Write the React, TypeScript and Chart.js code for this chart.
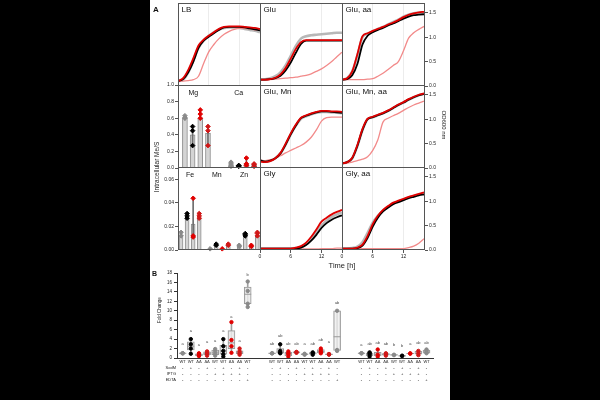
import React, { useEffect, useRef } from "react";
import { Chart, registerables } from "chart.js";

Chart.register(...registerables);
const FONT = "'Liberation Sans', Arial, Helvetica, sans-serif";
Chart.defaults.font.family = FONT;
Chart.defaults.color = "#222";

// ---------- Panel A: growth curves ----------
const TIME_H = [0, 1, 2, 3, 4, 5, 6, 7, 8, 9, 10, 11, 12, 13, 14, 15, 16];
const TIME_TICKS = [0, 6, 12];
const OD_TICKS = [0, 0.5, 1.0, 1.5];

const LB_RED = [0.1, 0.16, 0.33, 0.57, 0.83, 0.95, 1.03, 1.1, 1.17, 1.21, 1.22, 1.22, 1.22, 1.21, 1.2, 1.19, 1.17];
const LB_BLACK = [0.1, 0.14, 0.28, 0.5, 0.78, 0.93, 1.01, 1.08, 1.15, 1.2, 1.21, 1.21, 1.21, 1.2, 1.18, 1.16, 1.14];
const LB_PINK = [0.1, 0.1, 0.11, 0.13, 0.2, 0.46, 0.7, 0.85, 0.97, 1.06, 1.12, 1.16, 1.18, 1.18, 1.17, 1.15, 1.14];
const LB_GREY = [0.1, 0.13, 0.28, 0.52, 0.78, 0.93, 1.03, 1.1, 1.16, 1.19, 1.2, 1.2, 1.19, 1.17, 1.15, 1.13, 1.1];

const GLU_RED = [0.13, 0.13, 0.14, 0.17, 0.24, 0.37, 0.56, 0.76, 0.9, 0.94, 0.94, 0.94, 0.94, 0.94, 0.94, 0.94, 0.94];
const GLU_BLACK = [0.13, 0.13, 0.14, 0.16, 0.21, 0.32, 0.48, 0.68, 0.86, 0.93, 0.93, 0.93, 0.93, 0.93, 0.93, 0.93, 0.93];
const GLU_PINK = [0.12, 0.12, 0.13, 0.14, 0.15, 0.16, 0.17, 0.18, 0.2, 0.22, 0.25, 0.3, 0.35, 0.42, 0.5, 0.6, 0.69];
const GLU_GREY = [0.13, 0.14, 0.16, 0.2, 0.28, 0.42, 0.62, 0.82, 0.97, 1.02, 1.04, 1.05, 1.06, 1.07, 1.08, 1.09, 1.09];

const GLUAA_RED = [0.13, 0.16, 0.3, 0.65, 1.02, 1.08, 1.13, 1.17, 1.21, 1.26, 1.3, 1.35, 1.41, 1.46, 1.49, 1.51, 1.52];
const GLUAA_BLACK = [0.13, 0.14, 0.22, 0.45, 0.85, 1.03, 1.1, 1.15, 1.19, 1.24, 1.28, 1.33, 1.38, 1.42, 1.45, 1.46, 1.47];
const GLUAA_PINK = [0.13, 0.13, 0.13, 0.13, 0.13, 0.14, 0.15, 0.2, 0.26, 0.34, 0.42, 0.5, 0.72, 0.98, 1.09, 1.16, 1.22];
const GLUAA_GREY = [0.13, 0.16, 0.3, 0.62, 1.0, 1.07, 1.12, 1.17, 1.21, 1.26, 1.31, 1.36, 1.42, 1.46, 1.49, 1.5, 1.51];

const GLUMN_RED = [0.13, 0.12, 0.14, 0.2, 0.31, 0.5, 0.71, 0.89, 1.03, 1.08, 1.12, 1.15, 1.17, 1.17, 1.16, 1.16, 1.15];
const GLUMN_BLACK = [0.16, 0.13, 0.15, 0.2, 0.3, 0.48, 0.69, 0.87, 1.02, 1.07, 1.11, 1.14, 1.16, 1.16, 1.15, 1.14, 1.13];
const GLUMN_PINK = [0.16, 0.15, 0.17, 0.2, 0.25, 0.31, 0.36, 0.41, 0.46, 0.53, 0.63, 0.78, 0.96, 1.03, 1.04, 1.04, 1.04];
const GLUMN_GREY = [0.15, 0.13, 0.15, 0.2, 0.3, 0.48, 0.69, 0.87, 1.01, 1.06, 1.1, 1.13, 1.15, 1.15, 1.14, 1.13, 1.12];

const GLUMNAA_RED = [0.09, 0.12, 0.21, 0.47, 0.8, 1.01, 1.05, 1.09, 1.13, 1.18, 1.24, 1.3, 1.35, 1.41, 1.46, 1.5, 1.53];
const GLUMNAA_BLACK = [0.09, 0.12, 0.2, 0.45, 0.78, 1.0, 1.04, 1.08, 1.12, 1.17, 1.23, 1.29, 1.34, 1.4, 1.45, 1.49, 1.52];
const GLUMNAA_PINK = [0.09, 0.1, 0.12, 0.15, 0.18, 0.23, 0.36, 0.58, 0.94, 1.02, 1.07, 1.12, 1.18, 1.24, 1.29, 1.33, 1.37];
const GLUMNAA_GREY = [0.09, 0.12, 0.2, 0.45, 0.78, 1.0, 1.04, 1.08, 1.12, 1.17, 1.23, 1.29, 1.34, 1.4, 1.45, 1.49, 1.52];

const GLY_RED = [0.03, 0.03, 0.03, 0.03, 0.03, 0.03, 0.03, 0.05, 0.08, 0.15, 0.27, 0.42, 0.58, 0.66, 0.73, 0.78, 0.82];
const GLY_BLACK = [0.03, 0.03, 0.03, 0.03, 0.03, 0.03, 0.03, 0.03, 0.05, 0.1, 0.19, 0.31, 0.45, 0.55, 0.62, 0.67, 0.71];
const GLY_PINK = [0.02, 0.02, 0.02, 0.02, 0.02, 0.02, 0.02, 0.02, 0.02, 0.02, 0.02, 0.02, 0.03, 0.03, 0.03, 0.04, 0.04];
const GLY_GREY = [0.03, 0.03, 0.03, 0.03, 0.03, 0.03, 0.03, 0.04, 0.06, 0.12, 0.22, 0.36, 0.5, 0.6, 0.68, 0.73, 0.77];

const GLYAA_RED = [0.03, 0.03, 0.03, 0.05, 0.11, 0.29, 0.53, 0.7, 0.82, 0.9, 0.97, 1.01, 1.05, 1.09, 1.12, 1.15, 1.18];
const GLYAA_BLACK = [0.03, 0.03, 0.03, 0.04, 0.09, 0.25, 0.48, 0.66, 0.79, 0.87, 0.94, 0.98, 1.02, 1.06, 1.09, 1.12, 1.14];
const GLYAA_PINK = [0.03, 0.03, 0.03, 0.03, 0.03, 0.03, 0.03, 0.03, 0.03, 0.03, 0.03, 0.03, 0.03, 0.05, 0.08, 0.14, 0.23];
const GLYAA_GREY = [0.03, 0.03, 0.04, 0.07, 0.16, 0.35, 0.56, 0.7, 0.8, 0.88, 0.95, 0.99, 1.03, 1.07, 1.1, 1.13, 1.16];

// ---------- Panel A: intracellular metals ----------
const MG_LABELS = ["Mg", "Ca"];
const MG_LABEL_X = [1.1, 7.0];
const MG_X = [0, 1, 2, 3, 6, 7, 8, 9];
const MG_BAR = [0.6, 0.4, 0.6, 0.42, 0.04, 0.02, 0.05, 0.04];
const MG_LO = [0.58, 0.27, 0.58, 0.27, 0.02, 0.02, 0.02, 0.02];
const MG_HI = [0.63, 0.5, 0.7, 0.52, 0.07, 0.03, 0.12, 0.06];
const MG_PTS = [[0.6, 0.61, 0.63], [0.27, 0.45, 0.5], [0.6, 0.65, 0.7], [0.27, 0.45, 0.5], [0.02, 0.05, 0.07], [0.02, 0.03, 0.03], [0.03, 0.05, 0.12], [0.02, 0.04, 0.05]];
const MG_TICKS = [0, 0.2, 0.4, 0.6, 0.8, 1.0];

const FE_LABELS = ["Fe", "Mn", "Zn"];
const FE_LABEL_X = [1.5, 5.9, 10.4];
const FE_X = [0, 1, 2, 3, 4.8, 5.8, 6.8, 7.8, 9.6, 10.6, 11.6, 12.6];
const FE_BAR = [0.013, 0.027, 0.022, 0.027, 0.0005, 0.004, 0.0005, 0.004, 0.004, 0.012, 0.004, 0.012];
const FE_LO = [0.011, 0.026, 0.011, 0.026, 0, 0.003, 0, 0.003, 0.003, 0.011, 0.003, 0.011];
const FE_HI = [0.016, 0.031, 0.044, 0.031, 0.001, 0.005, 0.001, 0.005, 0.005, 0.014, 0.005, 0.015];
const FE_PTS = [[0.012, 0.015], [0.027, 0.029, 0.031], [0.011, 0.012, 0.044], [0.027, 0.029, 0.031], [0.001], [0.004, 0.005], [0.001], [0.004, 0.005], [0.003, 0.004], [0.012, 0.013, 0.014], [0.003, 0.004], [0.012, 0.014, 0.015]];
const FE_TICKS = [0, 0.02, 0.04, 0.06];

const STRAIN_COLORS = ["#8a8a8a", "#000000", "#e00000", "#d01818"];

// ---------- Panel B: fold change ----------
const B_POS = [0, 1, 2, 3, 4, 5, 6, 7, 8, 11, 12, 13, 14, 15, 16, 17, 18, 19, 22, 23, 24, 25, 26, 27, 28, 29, 30];
const B_CATS = ["WT", "WT", "ΔΔ", "ΔΔ", "WT", "WT", "ΔΔ", "ΔΔ", "WT", "WT", "WT", "ΔΔ", "ΔΔ", "WT", "WT", "ΔΔ", "ΔΔ", "WT", "WT", "WT", "ΔΔ", "ΔΔ", "WT", "WT", "ΔΔ", "ΔΔ", "WT"];
const B_SODM = ["-", "+", "-", "+", "-", "+", "-", "+", "-", "-", "+", "-", "+", "-", "+", "-", "+", "-", "-", "+", "-", "+", "-", "+", "-", "+", "-"];
const B_IPTG = ["-", "-", "-", "-", "+", "+", "+", "+", "-", "-", "-", "-", "-", "+", "+", "+", "+", "-", "-", "-", "-", "-", "+", "+", "+", "+", "-"];
const B_EDTA = ["-", "-", "-", "-", "-", "-", "-", "-", "+", "-", "-", "-", "-", "-", "-", "-", "-", "+", "-", "-", "-", "-", "-", "-", "-", "-", "+"];
const B_ROW_LABELS = ["SodM", "IPTG", "EDTA"];
const B_MIN = [1, 0.9, 0.4, 0.5, 0.5, 0.3, 1.1, 0.7, 10.8, 1, 1.0, 0.3, 1.1, 0.7, 0.7, 1.0, 0.7, 1.5, 1, 0.3, 0.3, 0.5, 0.6, 0.4, 0.9, 0.6, 1.0];
const B_Q1 = [0.95, 1.7, 0.5, 0.7, 0.7, 0.8, 2.0, 0.9, 11.5, 0.95, 1.0, 0.5, 1.1, 0.7, 0.8, 1.1, 0.7, 1.6, 0.95, 0.5, 0.5, 0.6, 0.6, 0.4, 0.9, 0.8, 1.0];
const B_MED = [1, 2.5, 0.7, 1.0, 1.1, 1.5, 3.2, 1.2, 13.5, 1, 1.3, 0.9, 1.2, 0.8, 1.0, 1.4, 0.8, 4.5, 1, 0.8, 0.8, 0.8, 0.65, 0.45, 0.95, 1.0, 1.3];
const B_Q3 = [1.05, 3.4, 0.9, 1.3, 1.7, 2.7, 5.8, 1.5, 15.0, 1.05, 2.0, 1.2, 1.3, 0.9, 1.15, 1.8, 0.85, 10.0, 1.05, 1.05, 1.2, 0.95, 0.7, 0.5, 1.0, 1.4, 1.7];
const B_MAX = [1, 4.0, 1.0, 1.4, 1.9, 4.0, 7.6, 2.0, 16.2, 1, 2.9, 1.4, 1.3, 0.9, 1.2, 2.0, 0.85, 10.0, 1, 1.2, 1.8, 1.0, 0.7, 0.5, 1.0, 1.5, 1.8];
const B_PTS = [
  [1, 1, 1], [0.9, 2.0, 2.9, 4.0], [0.4, 0.6, 0.8, 1.0], [0.5, 0.9, 1.1, 1.4], [0.5, 0.9, 1.4, 1.9], [0.3, 0.8, 1.5, 2.5, 4.0], [1.1, 2.5, 3.8, 7.6], [0.7, 1.0, 1.4, 2.0], [10.8, 11.5, 14.2, 16.2],
  [1, 1, 1], [1.0, 1.1, 1.5, 2.9], [0.3, 0.8, 1.0, 1.4], [1.1, 1.2, 1.3], [0.7, 0.8, 0.9], [0.7, 1.0, 1.2], [1.0, 1.3, 1.6, 2.0], [0.7, 0.8, 0.85], [1.5, 1.7, 10.0],
  [1, 1, 1], [0.3, 0.7, 1.0, 1.2], [0.3, 0.7, 1.8], [0.5, 0.8, 1.0], [0.6, 0.7], [0.4, 0.5], [0.9, 1.0], [0.6, 1.0, 1.5], [1.0, 1.2, 1.6, 1.8],
];
const B_LETTERS = ["a", "a", "a", "a", "a", "a", "a", "a", "b", "ab", "ab", "ab", "ab", "a", "ab", "ab", "a", "ab", "a", "ab", "ab", "ab", "b", "b", "a", "ab", "ab"];
const B_LETTER_Y = [2.9, 5.7, 2.8, 3.4, 3.6, 5.8, 8.8, 3.6, 17.6, 2.9, 4.6, 2.9, 2.9, 2.9, 2.9, 3.8, 3.4, 11.7, 2.7, 2.9, 3.3, 2.9, 2.7, 2.6, 2.9, 3.3, 3.3];
const B_COLOR_IDX = [0, 1, 2, 3, 0, 1, 2, 3, 0, 0, 1, 2, 3, 0, 1, 2, 3, 0, 0, 1, 2, 3, 0, 1, 2, 3, 0];
const B_Y_TICKS = [0, 2, 4, 6, 8, 10, 12, 14, 16, 18];

// ---------- plugins ----------
const framePlugin = (color: string) => ({
  id: "frame",
  afterDraw(chart: any) {
    const { ctx, chartArea: a } = chart;
    ctx.save();
    ctx.strokeStyle = color;
    ctx.lineWidth = 1;
    ctx.strokeRect(a.left + 0.5, a.top + 0.5, a.right - a.left - 1, a.bottom - a.top - 1);
    ctx.restore();
  },
});

const panelLabelPlugin = (text: string) => ({
  id: "panelLabel",
  afterDraw(chart: any) {
    const { ctx, chartArea: a } = chart;
    ctx.save();
    ctx.font = `8px ${FONT}`;
    ctx.fillStyle = "#111";
    ctx.textBaseline = "top";
    ctx.textAlign = "left";
    ctx.fillText(text, a.left + 3.5, a.top + 3);
    ctx.restore();
  },
});

const groupLabelPlugin = (labels: string[], xs: number[]) => ({
  id: "groupLabels",
  afterDraw(chart: any) {
    const { ctx, chartArea: a } = chart;
    const sx = chart.scales.x;
    ctx.save();
    ctx.font = `7px ${FONT}`;
    ctx.fillStyle = "#111";
    ctx.textBaseline = "middle";
    ctx.textAlign = "center";
    labels.forEach((t, i) => ctx.fillText(t, sx.getPixelForValue(xs[i]), a.top + 8.5));
    ctx.restore();
  },
});

const letterPlugin = {
  id: "letters",
  afterDatasetsDraw(chart: any) {
    const { ctx, chartArea: a } = chart;
    const sx = chart.scales.x;
    const sy = chart.scales.y;
    ctx.save();
    ctx.font = `4px ${FONT}`;
    ctx.fillStyle = "#444";
    ctx.textBaseline = "middle";
    ctx.textAlign = "center";
    B_LETTERS.forEach((t, i) => ctx.fillText(t, sx.getPixelForValue(B_POS[i]), sy.getPixelForValue(B_LETTER_Y[i])));
    ctx.textAlign = "right";
    ctx.fillStyle = "#222";
    B_ROW_LABELS.forEach((t, i) => ctx.fillText(t, a.left - 1, a.bottom + 10 + i * 6));
    ctx.restore();
  },
};

// ---------- config builders ----------
const RED = "#e00000";
const BLACK = "#000000";
const PINK = "#f28a8a";
const GREY = "rgba(175,175,175,0.9)";
const M = 5; // transparent margin around each panel canvas so edge labels are not clipped

const baseOptions = {
  animation: false,
  responsive: false,
  events: [],
  plugins: { legend: { display: false }, tooltip: { enabled: false } },
};

const noPad = (s: any) => {
  s.paddingTop = 0;
  s.paddingBottom = 0;
  s.paddingLeft = 0;
  s.paddingRight = 0;
};
const fixW = (w: number) => (s: any) => { noPad(s); s.width = w; };
const fixH = (h: number) => (s: any) => { noPad(s); s.height = h; };

function growthConfig(label: string, red: number[], black: number[], pink: number[], grey: number[], right: boolean, bottom: boolean) {
  const mk = (arr: number[]) => arr.map((y, i) => ({ x: TIME_H[i], y }));
  const ds = [
    { data: mk(red), borderColor: RED, borderWidth: 1.8 },
    { data: mk(black), borderColor: BLACK, borderWidth: 1.8 },
    { data: mk(pink), borderColor: PINK, borderWidth: 1.3 },
    { data: mk(grey), borderColor: GREY, borderWidth: 2.6 },
  ].map((d) => ({ ...d, pointRadius: 0, pointHoverRadius: 0, cubicInterpolationMode: "monotone", fill: false }));
  return {
    type: "line",
    data: { datasets: ds },
    options: {
      ...baseOptions,
      layout: { padding: M, autoPadding: false },
      scales: {
        x: {
          type: "linear",
          min: 0,
          max: 16.2,
          afterBuildTicks: (s: any) => {
            s.ticks = TIME_TICKS.map((v) => ({ value: v }));
          },
          ticks: { display: bottom, font: { size: 5 }, padding: 1, maxRotation: 0, color: "#222", callback: (v: any) => String(v) },
          grid: { color: "#ececec", drawTicks: bottom, tickLength: 3, tickColor: "#555" },
          border: { display: false },
          afterFit: bottom ? fixH(12) : fixH(0),
        },
        y: {
          type: "linear",
          position: "right",
          min: 0,
          max: 1.7,
          display: right,
          afterBuildTicks: (s: any) => {
            s.ticks = OD_TICKS.map((v) => ({ value: v }));
          },
          ticks: { font: { size: 5 }, padding: 1, color: "#222", callback: (v: any) => Number(v).toFixed(1) },
          grid: { drawOnChartArea: false, drawTicks: true, tickLength: 3, color: "#555" },
          border: { display: false },
          afterFit: right ? fixW(24) : fixW(0),
        },
      },
    },
    plugins: [framePlugin("#555"), panelLabelPlugin(label)],
  };
}

function metalConfig(xs: number[], bars: number[], lo: number[], hi: number[], pts: number[][], xmin: number, xmax: number, ymax: number, yTicks: number[], dec: number, labels: string[], labelX: number[], barW: number) {
  const px: any[] = [];
  const pc: string[] = [];
  pts.forEach((arr, i) => arr.forEach((v) => { px.push({ x: xs[i], y: v }); pc.push(STRAIN_COLORS[i % 4]); }));
  return {
    type: "bar",
    data: {
      datasets: [
        { type: "scatter", data: px, pointBackgroundColor: pc, pointBorderColor: pc, pointRadius: 2.3, pointHoverRadius: 0, pointStyle: "rectRot", order: 0, clip: false },
        { type: "bar", data: xs.map((x, i) => ({ x, y: [lo[i], hi[i]] })), backgroundColor: "#6e6e6e", barThickness: 1, grouped: false, order: 1 },
        { type: "bar", data: xs.map((x, i) => ({ x, y: bars[i] })), backgroundColor: "#d4d4d4", borderColor: "#8c8c8c", borderWidth: 1, barThickness: barW, grouped: false, order: 2 },
      ],
    },
    options: {
      ...baseOptions,
      layout: { padding: M, autoPadding: false },
      scales: {
        x: { type: "linear", min: xmin, max: xmax, offset: false, display: false, afterFit: fixH(0) },
        y: {
          type: "linear",
          min: 0,
          max: ymax,
          afterBuildTicks: (s: any) => { s.ticks = yTicks.map((v) => ({ value: v })); },
          ticks: { font: { size: 5 }, padding: 1, color: "#222", callback: (v: any) => Number(v).toFixed(dec) },
          grid: { drawOnChartArea: false, drawTicks: true, tickLength: 3, color: "#555" },
          border: { display: false },
          afterFit: fixW(20),
        },
      },
    },
    plugins: [framePlugin("#555"), groupLabelPlugin(labels, labelX)],
  };
}

function foldConfig() {
  const px: any[] = [];
  const pc: string[] = [];
  B_PTS.forEach((arr, i) => arr.forEach((v) => { px.push({ x: B_POS[i], y: v }); pc.push(STRAIN_COLORS[B_COLOR_IDX[i]]); }));
  return {
    type: "bar",
    data: {
      datasets: [
        { type: "scatter", data: px, pointBackgroundColor: pc, pointBorderColor: pc, pointRadius: 1.7, pointHoverRadius: 0, pointStyle: "circle", order: 0 },
        { type: "scatter", data: B_POS.map((x, i) => ({ x, y: B_MED[i] })), pointStyle: "line", pointRadius: 3.5, pointHoverRadius: 0, pointBorderColor: "#9a9a9a", pointBorderWidth: 1, order: 1 },
        { type: "bar", data: B_POS.map((x, i) => ({ x, y: [B_Q1[i], B_Q3[i]] })), backgroundColor: "rgba(238,238,238,0.8)", borderColor: "#9a9a9a", borderWidth: 1, borderSkipped: false, barThickness: 7, grouped: false, order: 2 },
        { type: "bar", data: B_POS.map((x, i) => ({ x, y: [B_MIN[i], B_MAX[i]] })), backgroundColor: "#a0a0a0", barThickness: 1, grouped: false, order: 3 },
      ],
    },
    options: {
      ...baseOptions,
      layout: { padding: { top: 5, right: 7, left: 0, bottom: 0 }, autoPadding: false },
      scales: {
        x: {
          type: "linear",
          min: -0.7,
          max: 30.8,
          offset: false,
          afterBuildTicks: (s: any) => { s.ticks = B_POS.map((v) => ({ value: v })); },
          ticks: {
            autoSkip: false,
            maxRotation: 0,
            padding: 1,
            color: "#222",
            font: { size: 4, lineHeight: 1.5 },
            callback: (_v: any, i: number) => [B_CATS[i], B_SODM[i], B_IPTG[i], B_EDTA[i]],
          },
          grid: { display: true, drawOnChartArea: false, drawTicks: false },
          border: { display: true, color: "#333", width: 1 },
          afterFit: fixH(30),
        },
        y: {
          type: "linear",
          min: 0,
          max: 18,
          afterBuildTicks: (s: any) => { s.ticks = B_Y_TICKS.map((v) => ({ value: v })); },
          ticks: { font: { size: 4.5 }, padding: 2, color: "#222" },
          grid: { drawOnChartArea: false, drawTicks: true, tickLength: 3, color: "#333" },
          border: { display: true, color: "#333", width: 1 },
          afterFit: fixW(27),
        },
      },
    },
    plugins: [letterPlugin],
  };
}

function ChartCanvas({ left, top, width, height, make }: { left: number; top: number; width: number; height: number; make: () => any }) {
  const ref = useRef<HTMLCanvasElement | null>(null);
  useEffect(() => {
    const chart = new Chart(ref.current as HTMLCanvasElement, make());
    return () => chart.destroy();
  }, []);
  return <canvas ref={ref} width={width} height={height} style={{ position: "absolute", left, top, width, height }} />;
}

// Panel canvas: plot box at (x, y) of size w x h, plus axis room, plus transparent margin M
function Panel({ x, y, w, h, make }: { x: number; y: number; w: number; h: number; make: () => any }) {
  return <ChartCanvas left={x - M} top={y - M} width={w + 2 * M} height={h + 2 * M} make={make} />;
}

const rot = (x: number, y: number, deg: number, size: number, text: string) => (
  <div
    style={{
      position: "absolute",
      left: x,
      top: y,
      transform: `translate(-50%, -50%) rotate(${deg}deg)`,
      whiteSpace: "nowrap",
      fontFamily: FONT,
      fontSize: size,
      color: "#222",
      lineHeight: 1,
    }}
  >
    {text}
  </div>
);

export default function App() {
  const C = [178, 260, 342];
  const R = [3, 85, 167];
  return (
    <div style={{ position: "fixed", left: 0, top: 0, width: 600, height: 400, background: "#000", overflow: "hidden" }}>
      <div style={{ position: "absolute", left: 150, top: 0, width: 300, height: 400, background: "#fff" }} />
      <Panel x={C[0]} y={R[0]} w={83} h={83} make={() => growthConfig("LB", LB_RED, LB_BLACK, LB_PINK, LB_GREY, false, false)} />
      <Panel x={C[1]} y={R[0]} w={83} h={83} make={() => growthConfig("Glu", GLU_RED, GLU_BLACK, GLU_PINK, GLU_GREY, false, false)} />
      <Panel x={C[2]} y={R[0]} w={107} h={83} make={() => growthConfig("Glu, aa", GLUAA_RED, GLUAA_BLACK, GLUAA_PINK, GLUAA_GREY, true, false)} />
      <Panel x={C[1]} y={R[1]} w={83} h={83} make={() => growthConfig("Glu, Mn", GLUMN_RED, GLUMN_BLACK, GLUMN_PINK, GLUMN_GREY, false, false)} />
      <Panel x={C[2]} y={R[1]} w={107} h={83} make={() => growthConfig("Glu, Mn, aa", GLUMNAA_RED, GLUMNAA_BLACK, GLUMNAA_PINK, GLUMNAA_GREY, true, false)} />
      <Panel x={C[1]} y={R[2]} w={83} h={95} make={() => growthConfig("Gly", GLY_RED, GLY_BLACK, GLY_PINK, GLY_GREY, false, true)} />
      <Panel x={C[2]} y={R[2]} w={107} h={95} make={() => growthConfig("Gly, aa", GLYAA_RED, GLYAA_BLACK, GLYAA_PINK, GLYAA_GREY, true, true)} />
      <Panel x={158} y={R[1]} w={103} h={83} make={() => metalConfig(MG_X, MG_BAR, MG_LO, MG_HI, MG_PTS, -0.9, 9.9, 1.0, MG_TICKS, 1, MG_LABELS, MG_LABEL_X, 5)} />
      <Panel x={158} y={R[2]} w={103} h={83} make={() => metalConfig(FE_X, FE_BAR, FE_LO, FE_HI, FE_PTS, -0.5, 13.2, 0.0706, FE_TICKS, 2, FE_LABELS, FE_LABEL_X, 4)} />
      <ChartCanvas left={150} top={268} width={290} height={120} make={() => foldConfig()} />
      <div style={{ position: "absolute", left: 153, top: 6, fontFamily: FONT, fontSize: 8, fontWeight: "bold", lineHeight: 1, color: "#111" }}>A</div>
      <div style={{ position: "absolute", left: 152, top: 270, fontFamily: FONT, fontSize: 7, fontWeight: "bold", lineHeight: 1, color: "#111" }}>B</div>
      {rot(342, 265.5, 0, 7.5, "Time [h]")}
      {rot(444, 125, 90, 6, "OD600 nm")}
      {rot(157, 167, -90, 6.5, "Intracellular Me/S")}
      {rot(160, 310, -90, 4.5, "Fold Change")}
    </div>
  );
}
